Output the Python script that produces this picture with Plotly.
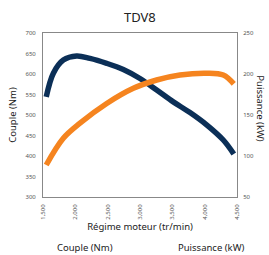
import plotly.graph_objects as go

rpm_t = [1550, 1660, 1814, 2020, 2227, 2485, 2742, 3000, 3258, 3515, 3773, 4030, 4288, 4450]
torque = [544, 602, 634, 644, 638, 626, 611, 589, 561, 532, 506, 476, 439, 405]
rpm_p = [1550, 1814, 2072, 2485, 2897, 3258, 3618, 4030, 4288, 4450]
power = [89, 121.6, 140, 164, 182.5, 192.7, 198.8, 201, 198.8, 188]

x_ticks = [1500, 2000, 2500, 3000, 3500, 4000, 4500]
x_labels = ["1,500", "2,000", "2,500", "3,000", "3,500", "4,000", "4,500"]

navy = "#0b2f57"
orange = "#f5841f"
font = "Noto Sans"
tfont = dict(size=6, color="#555", family=font)
lfont = dict(size=9.5, color="#222", family=font)

fig = go.Figure()
fig.add_trace(go.Scatter(x=rpm_t, y=torque, mode="lines", name="Couple (Nm)", showlegend=False,
                         line=dict(color=navy, width=5.5, shape="spline"), yaxis="y"))
fig.add_trace(go.Scatter(x=rpm_p, y=power, mode="lines", name="Puissance (kW)", showlegend=False,
                         line=dict(color=orange, width=5.5, shape="spline"), yaxis="y2"))

fig.update_layout(
    width=269, height=255,
    margin=dict(l=43, r=32, t=33, b=58, autoexpand=False),
    paper_bgcolor="white", plot_bgcolor="white",
    font=dict(family=font, color="#333"),
    title=dict(text="TDV8", x=0.52, xanchor="center", y=0.93, yanchor="middle",
               font=dict(size=13, color="#222", family=font)),
    xaxis=dict(range=[1500, 4500], tickvals=x_ticks, ticktext=x_labels, tickangle=-90,
               tickfont=tfont, showgrid=False, zeroline=False, automargin=False,
               showline=True, linecolor="#888", linewidth=1, mirror=True,
               ticks="outside", ticklen=4, tickcolor="rgba(0,0,0,0)",
               title=dict(text="Régime moteur (tr/min)", font=lfont, standoff=3)),
    yaxis=dict(range=[300, 700], dtick=50, tickfont=tfont, automargin=False,
               showgrid=False, zeroline=False, showline=True, linecolor="#888", linewidth=1,
               ticks="outside", ticklen=5, tickcolor="rgba(0,0,0,0)",
               title=dict(text="Couple (Nm)", font=lfont, standoff=7)),
    yaxis2=dict(range=[50, 250], dtick=50, overlaying="y", side="right", automargin=False,
                tickfont=tfont, showgrid=False, zeroline=False,
                showline=True, linecolor="#888", linewidth=1,
                ticks="outside", ticklen=4, tickcolor="rgba(0,0,0,0)"),
    annotations=[
        dict(text="Puissance (kW)", textangle=90, xref="paper", yref="paper",
             x=1.119, y=0.54, showarrow=False, xanchor="center", yanchor="middle", font=lfont),
        dict(text="Couple (Nm)", xref="paper", yref="paper", x=0.214, y=-0.308,
             showarrow=False, xanchor="center", yanchor="middle", font=lfont),
        dict(text="Puissance (kW)", xref="paper", yref="paper", x=0.869, y=-0.308,
             showarrow=False, xanchor="center", yanchor="middle", font=lfont),
    ],
)

fig.write_html("out.html", config={"displayModeBar": False},
               post_script="document.body.style.margin='0';")
